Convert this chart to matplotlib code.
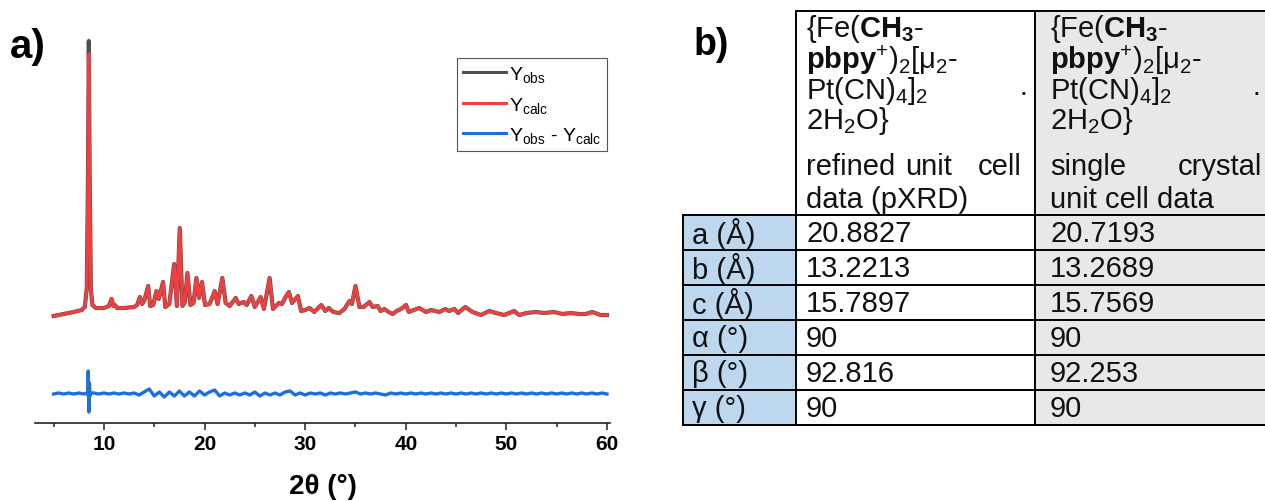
import numpy as np
import matplotlib
matplotlib.use("Agg")
import matplotlib.pyplot as plt
from matplotlib.lines import Line2D
from matplotlib.patches import Rectangle

plt.rcParams['font.family'] = ['Liberation Sans', 'DejaVu Sans']
plt.rcParams['mathtext.fontset'] = 'custom'
plt.rcParams['mathtext.rm'] = 'Liberation Sans'
plt.rcParams['mathtext.it'] = 'Liberation Sans:italic'
plt.rcParams['mathtext.bf'] = 'Liberation Sans:bold'
plt.rcParams['mathtext.default'] = 'regular'

# --- pXRD pattern (intensity in a.u.) ---
two_theta = [5.0, 6.0, 7.0, 7.8, 8.1, 8.3, 8.42, 8.5, 8.58, 8.7,
             8.85, 9.2, 10.0, 10.5, 10.76, 10.95, 11.1, 11.3, 12.0, 13.0,
             13.3, 13.57, 13.8, 14.0, 14.4, 14.6, 14.9, 15.22, 15.45, 15.88,
             16.1, 16.5, 16.98, 17.25, 17.54, 17.8, 18.05, 18.3, 18.6, 18.9,
             19.19, 19.45, 19.75, 20.05, 20.5, 20.75, 21.01, 21.3, 21.77, 22.1,
             22.5, 23.1, 23.4, 23.9, 24.2, 24.65, 25.0, 25.58, 25.9, 26.47,
             26.8, 27.39, 27.7, 28.0, 28.38, 28.7, 29.28, 29.6, 30.0, 30.44,
             30.9, 31.6, 32.0, 32.35, 32.8, 33.4, 33.9, 34.4, 34.65, 35.0,
             35.4, 35.8, 36.39, 36.7, 37.21, 37.5, 37.88, 38.3, 38.7, 39.1,
             39.53, 40.03, 40.3, 40.8, 41.35, 42.0, 42.5, 43.33, 43.93, 44.3,
             44.82, 45.2, 45.91, 46.64, 47.47, 48.3, 48.96, 49.78, 50.77, 51.27,
             52.0, 52.92, 53.75, 54.74, 55.57, 56.4, 57.2, 57.89, 58.54, 59.37,
             60.0]
y_obs = [107, 109, 111, 113, 116, 135, 250, 382, 250, 135,
         118, 115, 115, 117, 124, 117, 118, 115, 115, 116,
         118, 126, 119, 122, 137, 117, 118, 132, 124, 141,
         116, 119, 159, 117, 195, 117, 121, 150, 118, 120,
         145, 125, 141, 118, 119, 125, 132, 119, 145, 120,
         117, 125, 119, 121, 118, 127, 116, 126, 114, 145,
         114, 120, 119, 125, 131, 120, 127, 112, 113, 115,
         111, 118, 112, 115, 111, 110, 114, 122, 119, 137,
         116, 116, 121, 116, 117, 112, 114, 111, 109, 112,
         114, 118, 111, 113, 115, 111, 113, 111, 114, 112,
         114, 110, 116, 111, 108, 112, 110, 108, 112, 108,
         110, 111, 110, 111, 109, 110, 109, 109, 111, 108,
         108]
# calculated pattern: same except the top of the strongest reflection
y_calc = list(y_obs)
y_calc[7] = 369

# difference curve (offset below the patterns)
diff_theta = list(np.arange(5.0, 60.01, 0.5)) + [8.3, 8.4, 8.44, 8.56, 8.62, 8.7]
diff_vals = [29, 30, 29, 30, 29, 30, 29, 11, 30, 29,
             30, 29, 30, 29, 30, 29, 30, 28, 31, 34,
             27, 31, 26, 31, 27, 32, 27, 31, 27, 32,
             28, 31, 33, 27, 30, 28, 30, 28, 30, 28,
             31, 27, 30, 28, 30, 28, 31, 32, 28, 30,
             28, 30, 29, 30, 28, 30, 29, 30, 29, 30,
             31, 29, 30, 29, 30, 29, 28, 30, 29, 30,
             29, 30, 29, 30, 29, 30, 29, 30, 29, 30,
             29, 30, 29, 30, 29, 30, 29, 30, 29, 30,
             29, 30, 29, 30, 29, 30, 29, 30, 29, 30,
             29, 30, 29, 30, 29, 30, 29, 30, 29, 30,
             29] + [30, 28, 52, 40, 27, 30]
order = np.argsort(diff_theta)
diff_theta = np.array(diff_theta)[order]
diff_vals = np.array(diff_vals)[order]

legend_labels = [r'Y$_{obs}$', r'Y$_{calc}$', r'Y$_{obs}$ - Y$_{calc}$']
c_obs, c_calc, c_diff = '#505050', '#ef3f3f', '#1f6fdb'

# --- unit cell table ---
row_labels = ['a (Å)', 'b (Å)', 'c (Å)', 'α (°)', 'β (°)', 'γ (°)']
pxrd_vals = ['20.8827', '13.2213', '15.7897', '90', '92.816', '90']
single_vals = ['20.7193', '13.2689', '15.7569', '90', '92.253', '90']

W, H = 1265, 502
fig = plt.figure(figsize=(W / 100, H / 100), dpi=100)

# overlay in pixel coordinates for the table and panel letters
ov = fig.add_axes([0, 0, 1, 1])
ov.set_xlim(0, W)
ov.set_ylim(H, 0)
ov.axis('off')

ax = fig.add_axes([35 / W, 78 / H, 575 / W, 394 / H])
ax.plot(two_theta, y_obs, color=c_obs, lw=3.0, solid_joinstyle='round')
ax.plot(two_theta, y_calc, color=c_calc, lw=2.3, solid_joinstyle='round')
ax.plot(diff_theta, diff_vals, color=c_diff, lw=2.4)
ax.set_xlim(3.15, 60.3)
ax.set_ylim(0, 394)
for s in ['left', 'top', 'right']:
    ax.spines[s].set_visible(False)
ax.spines['bottom'].set_linewidth(1.2)
ax.spines['bottom'].set_color('#222222')
ax.set_yticks([])
ax.set_xticks(range(10, 61, 10))
ax.set_xticks(range(5, 60, 10), minor=True)
ax.tick_params(axis='x', which='major', direction='out', length=5, width=1.1,
               pad=3, labelsize=15, color='#222222')
ax.tick_params(axis='x', which='minor', direction='out', length=3, width=1.1,
               color='#222222')
for lbl in ax.get_xticklabels():
    lbl.set_fontweight('bold')
ax.set_xlabel('2θ (°)', fontsize=20, fontweight='bold', labelpad=14)

handles = [Line2D([], [], color=c, lw=2.2) for c in (c_obs, c_calc, c_diff)]
leg = ax.legend(handles, legend_labels, loc='upper right', fontsize=14,
                bbox_to_anchor=(607 / W, 1 - 59 / H), bbox_transform=fig.transFigure,
                frameon=True, fancybox=False, framealpha=1, edgecolor='#555555',
                handlelength=2.2, handletextpad=0.15, borderpad=0.3,
                labelspacing=0.55, borderaxespad=0)
leg.get_frame().set_linewidth(0.8)

fig.text(10 / W, 1 - 47 / H, 'a)', fontsize=29, fontweight='bold', va='center')
fig.text(694 / W, 1 - 45 / H, 'b)', fontsize=27, fontweight='bold', va='center')

# table geometry (pixels)
x0, x1, x2, x3 = 683, 796, 1035, 1265
top, head_bot, row_h = 12, 216, 35
bottom = head_bot + row_h * len(row_labels)
ov.add_patch(Rectangle((x0, head_bot), x1 - x0, bottom - head_bot, fc='#bdd7ee', ec='none'))
ov.add_patch(Rectangle((x2, top), x3 - x2, bottom - top, fc='#e8e8e8', ec='none'))
lw_t = 1.4
ov.plot([x1, x3], [top, top], color='k', lw=lw_t)
for i in range(len(row_labels) + 1):
    yy = head_bot + i * row_h
    ov.plot([x0, x3], [yy, yy], color='k', lw=lw_t)
ov.plot([x0, x0], [head_bot, bottom], color='k', lw=lw_t)
ov.plot([x1, x1], [top, bottom], color='k', lw=lw_t)
ov.plot([x2, x2], [top, bottom], color='k', lw=lw_t)

fs = 21
tc = '#111111'
c1, c2 = 806, 1050
head_lines = [r'{Fe($\mathbf{CH_3}$-', r'$\mathbf{pbpy}^{+}$)$_2$[μ$_2$-',
              r'Pt(CN)$_4$]$_2$', r'2H$_2$O}']
head_y = [29, 60, 91, 121]
for cx, dot_x in [(c1, 1023), (c2, 1256)]:
    for txt, yy in zip(head_lines, head_y):
        ov.text(cx, yy, txt, fontsize=fs, color=tc, va='center', ha='left')
    ov.text(dot_x, 93, '·', fontsize=fs, color=tc, va='center', ha='center')
ov.text(c1, 167, 'refined', fontsize=fs, color=tc, va='center')
ov.text(905, 167, 'unit', fontsize=fs, color=tc, va='center')
ov.text(1022, 167, 'cell', fontsize=fs, color=tc, va='center', ha='right')
ov.text(c1, 200, 'data (pXRD)', fontsize=fs, color=tc, va='center')
ov.text(c2, 167, 'single', fontsize=fs, color=tc, va='center')
ov.text(1262, 167, 'crystal', fontsize=fs, color=tc, va='center', ha='right')
ov.text(c2, 200, 'unit cell data', fontsize=fs, color=tc, va='center')

for i, (lab, v1, v2) in enumerate(zip(row_labels, pxrd_vals, single_vals)):
    yy = head_bot + (i + 0.5) * row_h + 1
    ov.text(692, yy, lab, fontsize=fs, color=tc, va='center')
    ov.text(c1, yy, v1, fontsize=fs, color=tc, va='center')
    ov.text(c2, yy, v2, fontsize=fs, color=tc, va='center')

fig.savefig('out.png', dpi=100)
